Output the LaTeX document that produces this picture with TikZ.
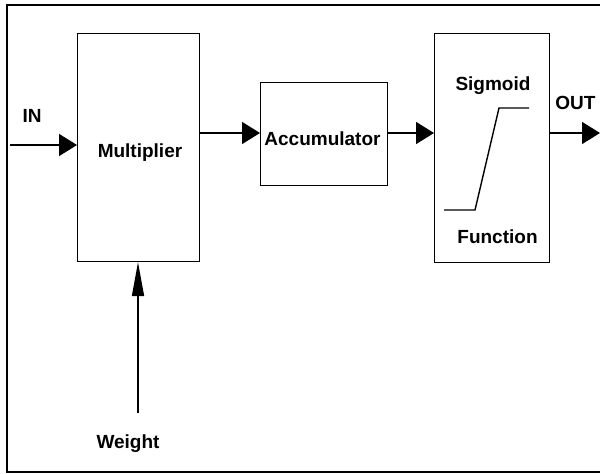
\documentclass[tikz,border=0pt]{standalone}
\usepackage{fontspec}
\setmainfont{Liberation Sans}
\usetikzlibrary{arrows.meta}
\begin{document}
\begin{tikzpicture}[x=1pt,y=-1pt,
  blk/.style={draw,line width=1.1pt,inner sep=0pt,anchor=north west},
  lbl/.style={font=\fontsize{19}{19}\selectfont\bfseries,inner sep=0pt,anchor=base},
  conn/.style={line width=1.6pt,-{Triangle[length=18pt,width=22pt]}},
  thin/.style={line width=1.6pt,-{Triangle[length=34pt,width=12pt]}}]
\useasboundingbox (0,0) rectangle (600,474);
\draw[line width=1.8pt] (606,5) -- (7,5) -- (7,472) -- (606,472);
\node[blk,minimum width=122pt,minimum height=228pt] (mult) at (77,33) {};
\node[blk,minimum width=127pt,minimum height=103pt] (acc) at (260,82) {};
\node[blk,minimum width=115pt,minimum height=229pt] (sig) at (434,33) {};
\node[lbl] (tmult) at (140,157) {Multiplier};
\node[lbl] (tacc) at (322.5,145) {Accumulator};
\node[lbl] (tsig) at (493,90) {Sigmoid};
\node[lbl] (tfun) at (497.5,243) {Function};
\node[lbl] (tin) at (32,122) {IN};
\node[lbl] (tout) at (575.5,109) {OUT};
\node[lbl] (tw) at (128,448) {Weight};
\coordinate (inl) at (10,145);
\coordinate (outr) at (600,133);
\coordinate (wb) at (138,413);
\draw[conn] (inl) -- (mult.west |- inl);
\draw[conn] (mult.east |- 0,133) -- (acc.west |- 0,133);
\draw[conn] (acc.east |- 0,133) -- (sig.west |- 0,133);
\draw[conn] (sig.east |- outr) -- (outr);
\draw[thin] (wb) -- (wb |- mult.south);
\draw[line width=1.4pt] (444,210) -- (475,210) -- (499,108) -- (529,108);
\end{tikzpicture}
\end{document}
